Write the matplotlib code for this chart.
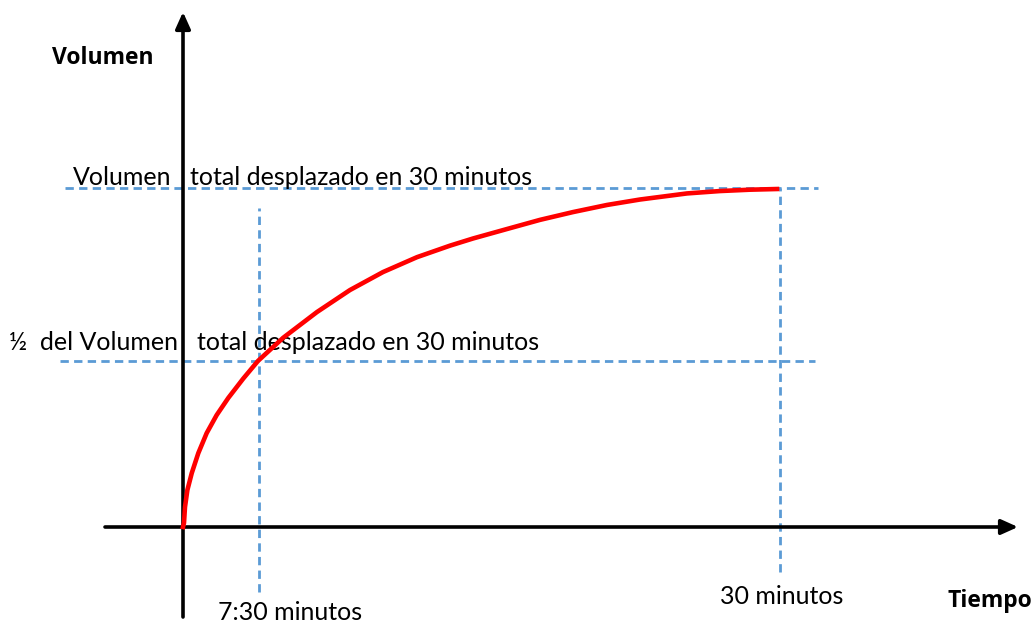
import matplotlib.pyplot as plt

# curve (schematic time axis, volume as fraction of total)
curve_t = [0, 0.05, 0.10, 0.22, 0.44, 0.77, 1.19, 1.69, 2.28, 3.03, 3.77,
           5.03, 6.73, 8.39, 10.05, 11.76, 13.42, 14.57, 16.28, 17.94, 19.60,
           21.31, 22.96, 25.33, 26.98, 28.49, 29.85]
curve_v = [0, 0.012, 0.059, 0.109, 0.159, 0.218, 0.277, 0.330, 0.381, 0.438, 0.490,
           0.558, 0.634, 0.699, 0.752, 0.796, 0.830, 0.851, 0.879, 0.906, 0.929,
           0.950, 0.966, 0.984, 0.991, 0.995, 0.997]

# guide lines: half volume reached at "7:30", full volume at 30 minutes
guide_t = [3.82, 30.0]
guide_v = [0.49, 1.0]
time_labels = ["7:30 minutos", "30 minutos"]
volume_labels = [("½  del Volumen", "total desplazado en 30 minutos"),
                 ("Volumen", "total desplazado en 30 minutos")]

W, H = 1032, 624
X0, Y0 = 183, 527       # pixel position of the origin
SX, SY = 19.9, 339      # pixels per minute / per unit volume


def px(x, y):
    # pixel position -> data coordinates
    return (x - X0) / SX, (Y0 - y) / SY


fig = plt.figure(figsize=(W / 100, H / 100), dpi=100)
ax = fig.add_axes([0, 0, 1, 1])
ax.axis("off")
ax.set_xlim(px(0, 0)[0], px(W, 0)[0])
ax.set_ylim(px(0, H)[1], px(0, 0)[1])

blue = "#5B9BD5"
dash = dict(color=blue, lw=2.0, dashes=(3.0, 1.9))

# horizontal guides
ax.plot([px(60, 0)[0], px(815, 0)[0]], [guide_v[0]] * 2, **dash)
ax.plot([px(65, 0)[0], px(818, 0)[0]], [guide_v[1]] * 2, **dash)
# vertical guides
ax.plot([guide_t[0]] * 2, [px(0, 592)[1], px(0, 208)[1]], **dash)
ax.plot([guide_t[1]] * 2, [px(0, 572)[1], guide_v[1]], **dash)

# axes with arrows
arrow = dict(arrowstyle="-|>,head_length=1.0,head_width=0.45", lw=2.6,
             color="black", shrinkA=0, shrinkB=0)
ax.annotate("", xy=px(1018, Y0), xytext=px(105, Y0), arrowprops=arrow)
ax.annotate("", xy=px(X0, 12), xytext=px(X0, 617), arrowprops=arrow)

# the curve
ax.plot(curve_t, curve_v, color="#FF0000", lw=3.3, solid_joinstyle="round", zorder=5)

# texts
reg = dict(fontsize=18, family="Lato", color="black")
bold = dict(fontsize=16.5, family="Open Sans", fontweight="bold", color="black")

ax.text(*px(52, 58), "Volumen", va="center", ha="left", **bold)
ax.text(*px(1032, 601), "Tiempo", va="center", ha="right", **bold)

ax.text(*px(73, 185), volume_labels[1][0], va="baseline", ha="left", **reg)
ax.text(*px(190, 185), volume_labels[1][1], va="baseline", ha="left", **reg)
ax.text(*px(9, 350), volume_labels[0][0], va="baseline", ha="left", **reg)
ax.text(*px(197, 350), volume_labels[0][1], va="baseline", ha="left", **reg)

ax.text(*px(218, 613), time_labels[0], va="center", ha="left", **reg)
ax.text(*px(720, 597), time_labels[1], va="center", ha="left", **reg)

fig.savefig("out.png", dpi=100, facecolor="white")
